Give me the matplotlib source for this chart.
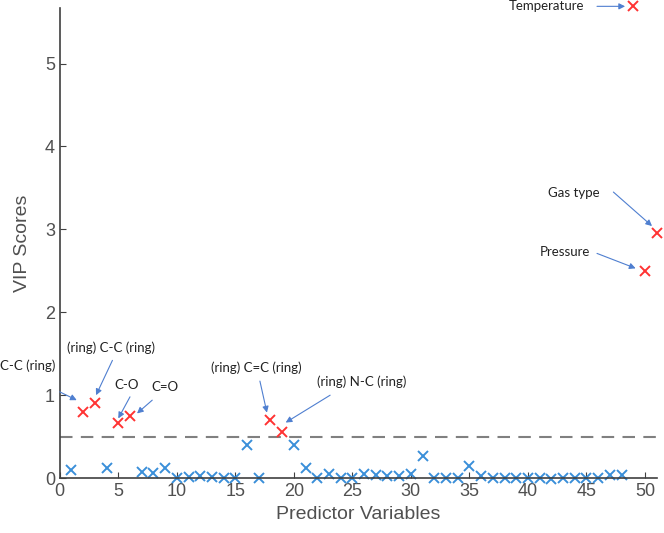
import matplotlib.pyplot as plt
import numpy as np

# VIP scores
blue_x = [1, 4, 7, 8, 9, 10, 11, 12, 13, 14, 15, 16, 17, 20, 21, 22, 23, 24, 25,
          26, 27, 28, 29, 30, 31, 32, 33, 34, 35, 36, 37, 38, 39, 40, 41, 42,
          43, 44, 45, 46, 47, 48]
blue_y = [0.10, 0.12, 0.07, 0.06, 0.12, 0.0, 0.01, 0.03, 0.01, 0.0, 0.0, 0.40,
          0.0, 0.40, 0.12, 0.0, 0.05, 0.0, 0.0, 0.05, 0.04, 0.02, 0.03, 0.05,
          0.27, 0.0, 0.0, 0.0, 0.15, 0.02, 0.0, 0.0, 0.0, 0.0, 0.0, -0.01, 0.0,
          0.0, 0.0, 0.0, 0.04, 0.04]
red_x = [2, 3, 5, 6, 18, 19, 49, 50, 51]
red_y = [0.80, 0.90, 0.67, 0.75, 0.70, 0.55, 5.69, 2.50, 2.96]
threshold = 0.5

# labels: (text, text pos, arrow start, arrow tip)
notes = [
    ("Temperature", (41.6, 5.69), (45.9, 5.69), (48.3, 5.69)),
    ("Gas type", (43.9, 3.44), (47.3, 3.45), (50.6, 3.04)),
    ("Pressure", (43.2, 2.73), (45.9, 2.71), (49.2, 2.53)),
    ("C-C (ring)", (-2.7, 1.35), (0.0, 1.04), (1.45, 0.94)),
    ("(ring) C-C (ring)", (4.4, 1.57), (4.5, 1.42), (3.1, 1.0)),
    ("C-O", (5.7, 1.12), (6.0, 0.98), (5.0, 0.72)),
    ("C=O", (9.0, 1.10), (7.9, 0.94), (6.6, 0.78)),
    ("(ring) C=C (ring)", (16.8, 1.33), (17.1, 1.17), (17.7, 0.79)),
    ("(ring) N-C (ring)", (25.8, 1.16), (23.1, 1.0), (19.3, 0.67)),
]

plt.rcParams['font.family'] = ['Liberation Sans', 'DejaVu Sans']

fig = plt.figure(figsize=(6.64, 5.33), dpi=100)
ax = fig.add_axes([0.090, 0.103, 0.899, 0.882])

ax.axhline(threshold, color='#808080', lw=1.5, ls=(0, (6, 4)))
ax.plot(blue_x, blue_y, 'x', color='#3a8fd9', ms=7.5, mew=1.4, clip_on=False)
ax.plot(red_x, red_y, 'x', color='#ff3333', ms=7.5, mew=1.4, clip_on=False)

for txt, tpos, start, tip in notes:
    ax.text(tpos[0], tpos[1], txt, ha='center', va='center', fontsize=9.5,
            family=['Lato', 'DejaVu Sans'], color='#222222', clip_on=False)
    ax.annotate('', xy=tip, xytext=start, annotation_clip=False,
                arrowprops=dict(arrowstyle='-|>', color='#4f7fd0', lw=0.8,
                                shrinkA=0, shrinkB=0, mutation_scale=9))

ax.set_xlim(0, 51)
ax.set_ylim(0, 5.67)
ax.set_xticks(np.arange(0, 51, 5))
ax.set_yticks(np.arange(0, 6, 1))
for s in ['top', 'right']:
    ax.spines[s].set_visible(False)
for s in ['left', 'bottom']:
    ax.spines[s].set_color('#404040')
    ax.spines[s].set_linewidth(1.2)
ax.tick_params(direction='in', length=4, colors='#404040', labelcolor='#505050',
               labelsize=13)
ax.set_xlabel('Predictor Variables', fontsize=14, color='#505050', labelpad=4)
ax.set_ylabel('VIP Scores', fontsize=14, color='#505050', labelpad=10)

fig.savefig('out.png', dpi=100)
